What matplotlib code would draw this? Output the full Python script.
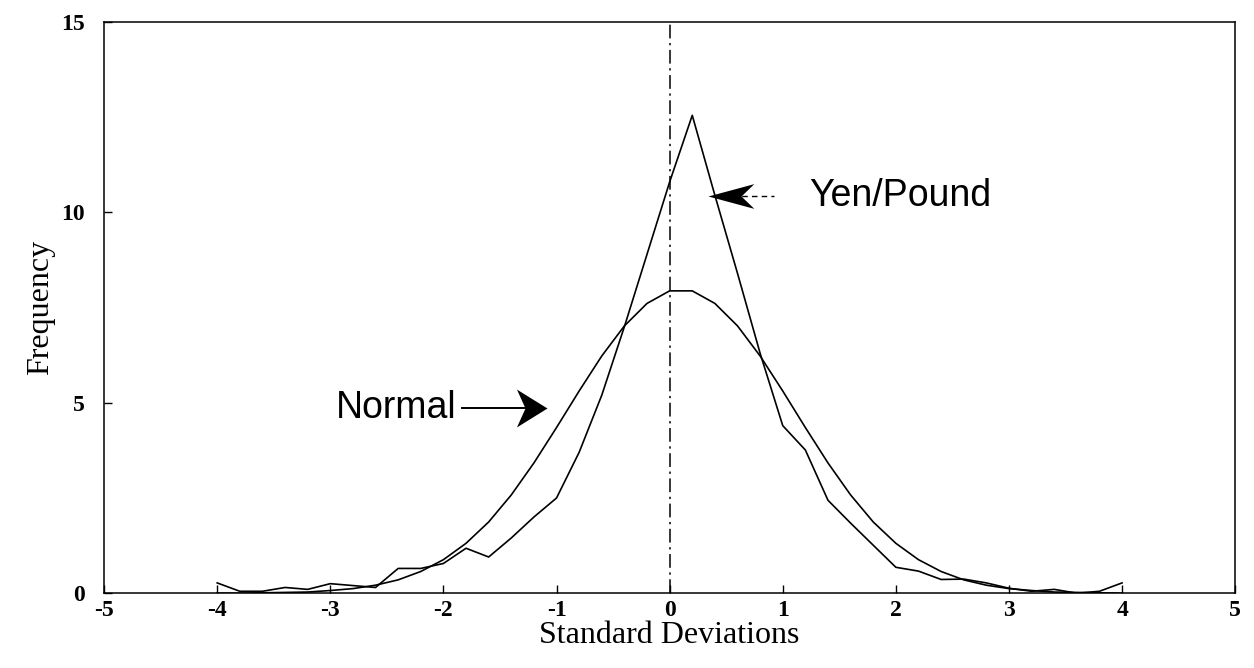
import numpy as np
import matplotlib.pyplot as plt
from matplotlib.path import Path

plt.rcParams['axes.unicode_minus'] = False

# standard deviation bins
sd = [-4.0, -3.8, -3.6, -3.4, -3.2, -3.0, -2.8, -2.6, -2.4, -2.2, -2.0,
      -1.8, -1.6, -1.4, -1.2, -1.0, -0.8, -0.6, -0.4, -0.2, 0.0,
      0.2, 0.4, 0.6, 0.8, 1.0, 1.2, 1.4, 1.6, 1.8, 2.0,
      2.2, 2.4, 2.6, 2.8, 3.0, 3.2, 3.4, 3.6, 3.8, 4.0]

normal = [0.00, 0.00, 0.01, 0.02, 0.03, 0.07, 0.12, 0.21, 0.35, 0.57, 0.88,
          1.31, 1.87, 2.58, 3.42, 4.35, 5.31, 6.23, 7.02, 7.61, 7.94,
          7.94, 7.61, 7.02, 6.23, 5.31, 4.35, 3.42, 2.58, 1.87, 1.31,
          0.88, 0.57, 0.35, 0.21, 0.12, 0.07, 0.03, 0.02, 0.01, 0.00]

yen_pound = [0.27, 0.05, 0.05, 0.15, 0.10, 0.25, 0.20, 0.15, 0.65, 0.65, 0.78,
             1.18, 0.95, 1.45, 2.00, 2.50, 3.70, 5.20, 7.00, 8.90, 10.80,
             12.55, 10.45, 8.40, 6.30, 4.40, 3.76, 2.44, 1.84, 1.26, 0.68,
             0.58, 0.36, 0.37, 0.27, 0.13, 0.05, 0.10, 0.00, 0.05, 0.27]

xticks = [-5, -4, -3, -2, -1, 0, 1, 2, 3, 4, 5]
yticks = [0, 5, 10, 15]

fig = plt.figure(figsize=(12.54, 6.68), dpi=100)
ax = fig.add_axes([0.083, 0.112, 0.902, 0.855])

ax.plot(sd, normal, color='black', lw=1.2)
ax.plot(sd, yen_pound, color='black', lw=1.2)
ax.axvline(0, color='black', lw=1.1, linestyle=(0, (9, 3, 1.5, 3)))

ax.set_xlim(-5, 5)
ax.set_ylim(0, 15)
ax.set_xticks(xticks)
ax.set_yticks(yticks)
ax.tick_params(direction='in', length=6, width=1, labelsize=17)
ax.tick_params(axis='x', pad=5)
ax.tick_params(axis='y', pad=14)
for lab in ax.get_xticklabels() + ax.get_yticklabels():
    lab.set_family('Liberation Serif')
    lab.set_fontweight('bold')
for s in ax.spines.values():
    s.set_linewidth(1.1)

ax.set_xlabel('Standard Deviations', family='Liberation Serif', fontsize=23, labelpad=0)
ax.set_ylabel('Frequency', family='Liberation Serif', fontsize=23, labelpad=4)

# barbed arrow heads (tip at origin)
head_right = Path([(0, 0), (-1, 0.62), (-0.72, 0), (-1, -0.62), (0, 0)],
                  [Path.MOVETO, Path.LINETO, Path.LINETO, Path.LINETO, Path.CLOSEPOLY])
head_left = Path([(0, 0), (1, 0.27), (0.72, 0), (1, -0.27), (0, 0)],
                 [Path.MOVETO, Path.LINETO, Path.LINETO, Path.LINETO, Path.CLOSEPOLY])

# Normal label and arrow
ax.plot([-1.84, -1.2], [4.86, 4.86], color='black', lw=1.4)
ax.plot([-1.08], [4.86], marker=head_right, ms=44, color='black', mew=0, ls='none')
ax.text(-1.88, 4.86, 'Normal', family='Liberation Sans', fontsize=27,
        ha='right', va='center')

# Yen/Pound label and arrow
ax.plot([0.55, 0.92], [10.43, 10.43], color='black', lw=1.0, ls=(0, (4, 3)))
ax.plot([0.34], [10.43], marker=head_left, ms=66, color='black', mew=0, ls='none')
ax.text(1.23, 10.43, 'Yen/Pound', family='Liberation Sans', fontsize=27,
        ha='left', va='center')

fig.savefig('out.png', dpi=100)
